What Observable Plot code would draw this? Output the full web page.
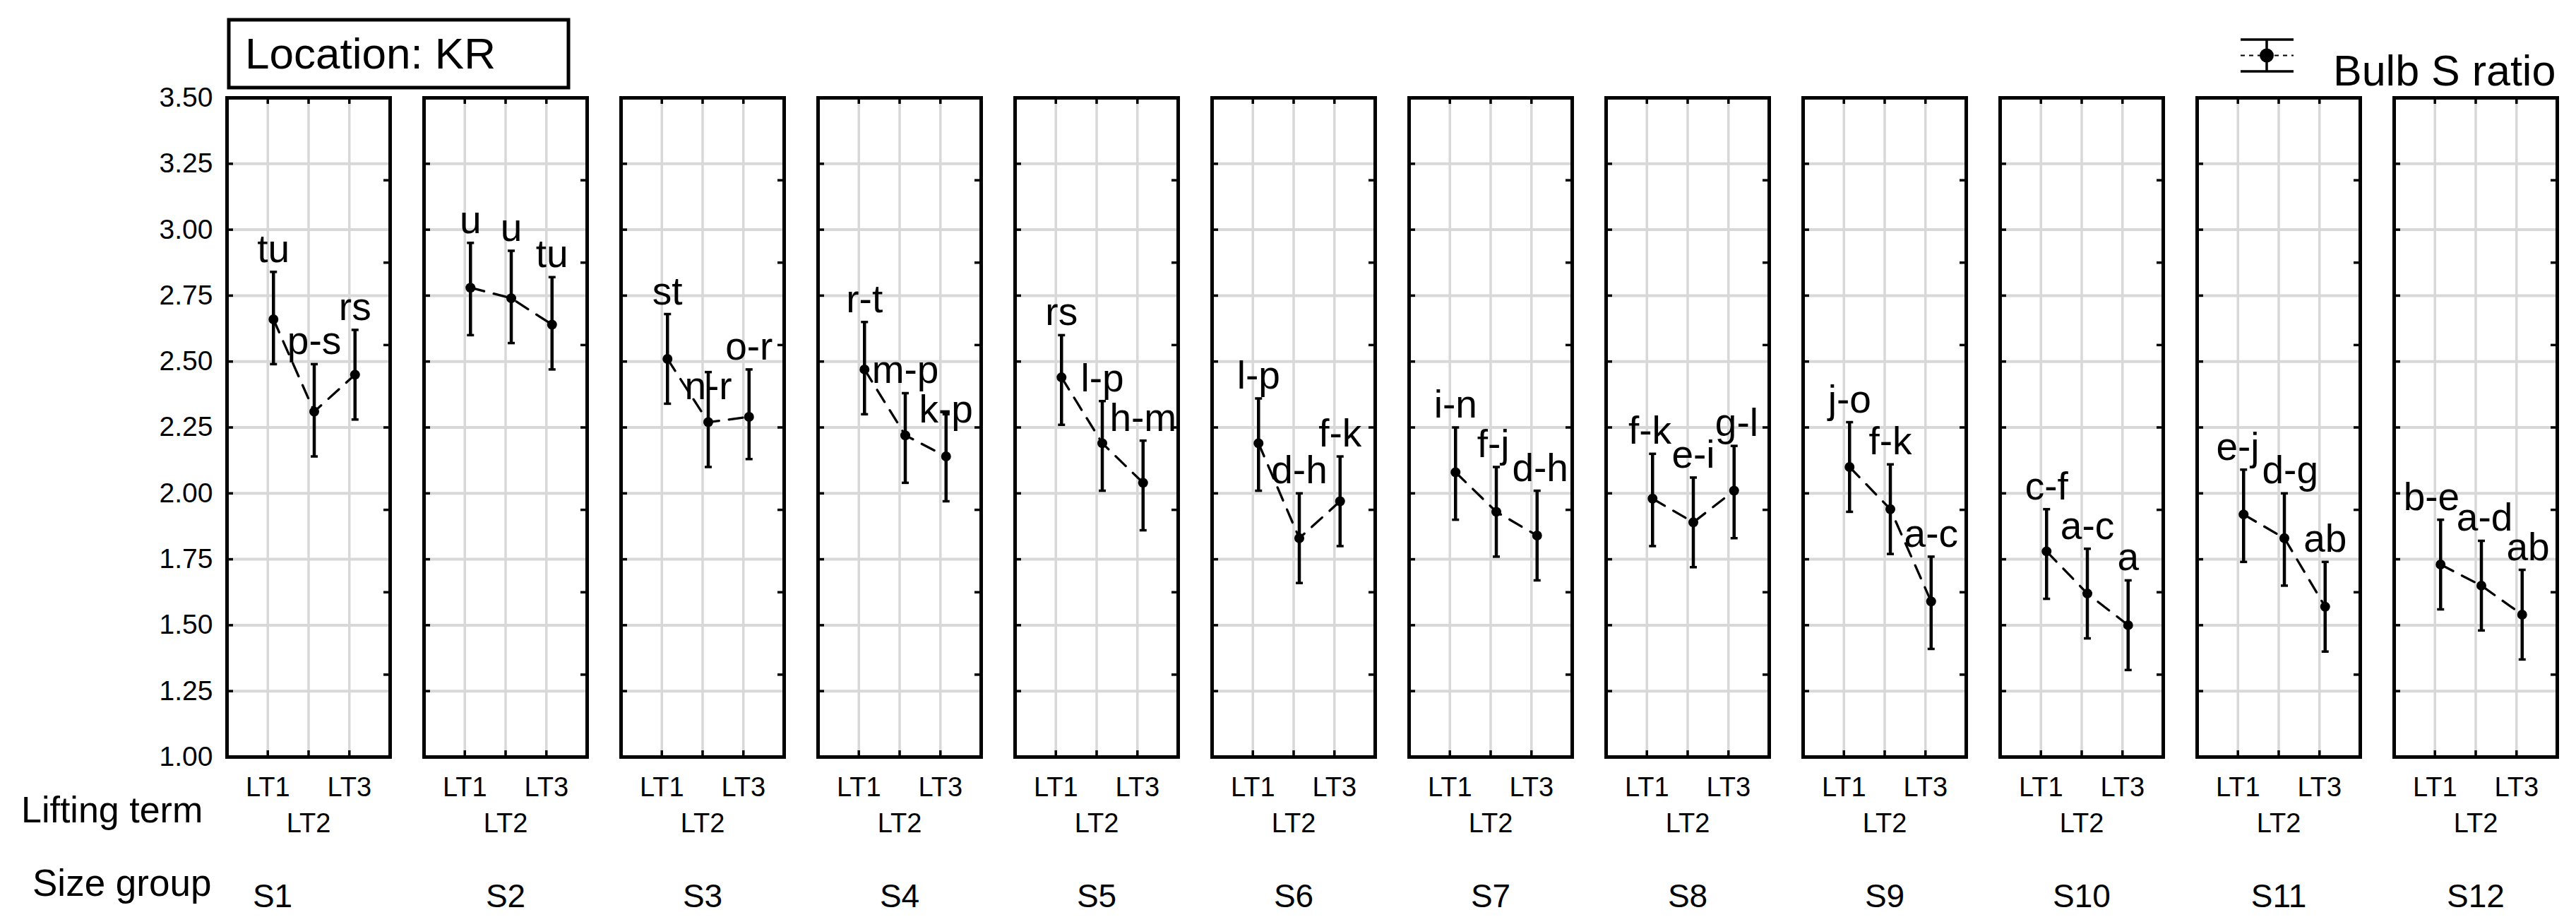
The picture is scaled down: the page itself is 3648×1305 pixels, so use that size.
<!DOCTYPE html>
<html>
<head>
<meta charset="utf-8">
<script src="https://cdn.jsdelivr.net/npm/d3@7"></script>
<script src="https://cdn.jsdelivr.net/npm/@observablehq/plot@0.6"></script>
<style>
  html, body { margin: 0; padding: 0; background: #ffffff; }
  #chart { width: 3648px; height: 1305px; }
  #chart svg { display: block; }
</style>
</head>
<body>
<div id="chart"></div>
<script>
// ---- Data ----
const groups = ["S1", "S2", "S3", "S4", "S5", "S6", "S7", "S8", "S9", "S10", "S11", "S12"];
const terms = ["LT1", "LT2", "LT3"];

// mean Bulb S ratio per size group (rows) and lifting term (columns)
const means = [
  [2.66, 2.31, 2.45],
  [2.78, 2.74, 2.64],
  [2.51, 2.27, 2.29],
  [2.47, 2.22, 2.14],
  [2.44, 2.19, 2.04],
  [2.19, 1.83, 1.97],
  [2.08, 1.93, 1.84],
  [1.98, 1.89, 2.01],
  [2.10, 1.94, 1.59],
  [1.78, 1.62, 1.50],
  [1.92, 1.83, 1.57],
  [1.73, 1.65, 1.54]
];
// lower whisker
const lower = [
  [2.49, 2.14, 2.28],
  [2.60, 2.57, 2.47],
  [2.34, 2.10, 2.13],
  [2.30, 2.04, 1.97],
  [2.26, 2.01, 1.86],
  [2.01, 1.66, 1.80],
  [1.90, 1.76, 1.67],
  [1.80, 1.72, 1.83],
  [1.93, 1.77, 1.41],
  [1.60, 1.45, 1.33],
  [1.74, 1.65, 1.40],
  [1.56, 1.48, 1.37]
];
// upper whisker
const upper = [
  [2.84, 2.49, 2.62],
  [2.95, 2.92, 2.82],
  [2.68, 2.46, 2.47],
  [2.65, 2.38, 2.30],
  [2.60, 2.35, 2.20],
  [2.36, 2.00, 2.14],
  [2.25, 2.10, 2.01],
  [2.15, 2.06, 2.18],
  [2.27, 2.11, 1.76],
  [1.94, 1.79, 1.67],
  [2.09, 2.00, 1.74],
  [1.90, 1.82, 1.71]
];
// significance letters
const letters = [
  ["tu", "p-s", "rs"],
  ["u", "u", "tu"],
  ["st", "n-r", "o-r"],
  ["r-t", "m-p", "k-p"],
  ["rs", "l-p", "h-m"],
  ["l-p", "d-h", "f-k"],
  ["i-n", "f-j", "d-h"],
  ["f-k", "e-i", "g-l"],
  ["j-o", "f-k", "a-c"],
  ["c-f", "a-c", "a"],
  ["e-j", "d-g", "ab"],
  ["b-e", "a-d", "ab"]
];
const yTicks = [1.00, 1.25, 1.50, 1.75, 2.00, 2.25, 2.50, 2.75, 3.00, 3.25, 3.50];
const rightTicks = [1.3125, 1.625, 1.9375, 2.25, 2.5625, 2.875, 3.1875];

const titleText = "Location: KR";
const legendText = "Bulb S ratio";
const xTitle = "Lifting term";
const fxTitle = "Size group";

// ---- Layout constants ----
const W = 3648, H = 1305;
const mTop = 138, mBottom = 234, mLeft = 321, mRight = 27;
const innerH = H - mTop - mBottom;
const bandW = 231;
const tickLen = 9;
const shift = 8;
const black = "#000000";
const gridColor = "#d8d8d8";
const letterSize = 55;
const fontFamily = '"Liberation Sans", Arial, Helvetica, sans-serif';

// ---- Table built from the arrays (x position = index of the lifting term) ----
const termPos = terms.map((t, j) => j + 1);
const rows = groups.flatMap((g, i) => terms.map((t, j) => ({
  group: g, term: t, pos: termPos[j], mean: means[i][j], lo: lower[i][j], hi: upper[i][j], letter: letters[i][j]
})));

// letter placement rule: just above the upper whisker; when two neighbouring
// letters clearly collide, the one over the lower whisker is moved down, and
// letters that still touch are spread apart sideways.
const pxPerUnit = innerH / 2.5;
const pxPerPos = bandW / (terms.length + 1);
const lift = 14 / pxPerUnit;
const nearGap = 22 / pxPerUnit;
const closeGap = 37 / pxPerUnit;
const pushGap = 56 / pxPerUnit;
const lineGap = 45 / pxPerUnit;
const measure = document.createElement("canvas").getContext("2d");
measure.font = `${letterSize}px ${fontFamily}`;
for (const g of groups) {
  const rs = rows.filter(r => r.group === g);
  rs.forEach(r => { r.ly = r.hi + lift; r.lx = r.pos; });
  for (let i = 1; i < rs.length; i++) {
    const a = rs[i - 1], b = rs[i];
    const wa = measure.measureText(a.letter).width;
    const wb = measure.measureText(b.letter).width;
    const hOverlap = (wa + wb) / 2 - pxPerPos;
    const d = Math.abs(a.ly - b.ly);
    if (hOverlap <= 0) continue;
    if (d < nearGap || (hOverlap > 25 && d < closeGap)) {
      if (b.hi <= a.hi) b.ly = a.ly - pushGap; else a.ly = b.ly - pushGap;
    } else if (d < lineGap) {
      const s = (hOverlap + 4) / 2 / pxPerPos;
      a.lx -= s;
      b.lx += s;
    }
  }
}

const capSymbol = {
  draw(ctx, size) {
    const r = Math.sqrt(size / Math.PI);
    ctx.moveTo(-r, 0);
    ctx.lineTo(r, 0);
  }
};

const chart = Plot.plot({
  width: W,
  height: H,
  marginTop: mTop,
  marginBottom: mBottom,
  marginLeft: mLeft,
  marginRight: mRight,
  style: { fontFamily, background: "#ffffff", color: black, overflow: "visible" },
  fx: { domain: groups, paddingInner: 48 / 279, paddingOuter: 0, round: false, axis: null, label: null },
  x: { domain: [0, terms.length + 1], axis: null, label: null },
  y: { domain: [1, 3.5], axis: null, label: null },
  marks: [
    Plot.gridY(yTicks, { stroke: gridColor, strokeOpacity: 1, strokeWidth: 4 }),
    Plot.gridX(termPos, { stroke: gridColor, strokeOpacity: 1, strokeWidth: 3.5 }),
    // inward ticks on the four sides of every panel
    Plot.ruleY(yTicks, { insetRight: bandW - tickLen, stroke: black, strokeWidth: 3.5 }),
    Plot.ruleY(rightTicks, { insetLeft: bandW - tickLen, stroke: black, strokeWidth: 3.5 }),
    Plot.ruleX(termPos, { insetBottom: innerH - tickLen, stroke: black, strokeWidth: 3.5 }),
    Plot.ruleX(termPos, { insetTop: innerH - tickLen, stroke: black, strokeWidth: 3.5 }),
    Plot.frame({ stroke: black, strokeWidth: 5 }),
    // axes
    Plot.axisY(yTicks, { anchor: "left", tickSize: 0, tickPadding: 20, tickFormat: d3.format(".2f"), fontSize: 39, label: null }),
    Plot.axisX([termPos[0], termPos[2]], { anchor: "bottom", tickSize: 0, tickPadding: 29, tickFormat: d => terms[d - 1], fontSize: 38, label: null }),
    Plot.axisX([termPos[1]], { anchor: "bottom", tickSize: 0, tickPadding: 80, tickFormat: d => terms[d - 1], fontSize: 38, label: null }),
    Plot.text(groups.slice(0, 1), { fx: d => d, text: d => d, frameAnchor: "bottom", lineAnchor: "top", dy: 180, dx: -51, fontSize: 46, fill: black }),
    Plot.text(groups.slice(1), { fx: d => d, text: d => d, frameAnchor: "bottom", lineAnchor: "top", dy: 180, fontSize: 46, fill: black }),
    // data
    Plot.line(rows, { fx: "group", x: "pos", y: "mean", stroke: black, strokeWidth: 3.3, strokeDasharray: "20 14", dx: shift }),
    Plot.ruleX(rows, { fx: "group", x: "pos", y1: "lo", y2: "hi", stroke: black, strokeWidth: 4.5, dx: shift }),
    Plot.dot(rows, { fx: "group", x: "pos", y: "hi", symbol: capSymbol, r: 5, fill: "none", stroke: black, strokeWidth: 3.5, dx: shift }),
    Plot.dot(rows, { fx: "group", x: "pos", y: "lo", symbol: capSymbol, r: 5, fill: "none", stroke: black, strokeWidth: 3.5, dx: shift }),
    Plot.dot(rows, { fx: "group", x: "pos", y: "mean", r: 7, fill: black, stroke: "none", dx: shift }),
    Plot.text(rows, { fx: "group", x: "lx", y: "ly", text: "letter", dx: shift, lineAnchor: "bottom", fontSize: letterSize, fill: black })
  ]
});

// ---- Annotations outside the panels: title box, legend, row titles ----
const svg = d3.select(chart);
const ann = svg.append("g").attr("fill", black).attr("text-anchor", "start");
ann.append("rect").attr("x", 324).attr("y", 28).attr("width", 481).attr("height", 96)
  .attr("fill", "none").attr("stroke", black).attr("stroke-width", 5);
ann.append("text").attr("x", 347).attr("y", 97).attr("font-size", 62).attr("text-anchor", "start").text(titleText);

const lg = ann.append("g");
lg.append("line").attr("x1", 3173).attr("x2", 3248).attr("y1", 56).attr("y2", 56).attr("stroke", black).attr("stroke-width", 3.5);
lg.append("line").attr("x1", 3173).attr("x2", 3248).attr("y1", 101).attr("y2", 101).attr("stroke", black).attr("stroke-width", 3.5);
lg.append("line").attr("x1", 3210).attr("x2", 3210).attr("y1", 56).attr("y2", 101).attr("stroke", black).attr("stroke-width", 3.5);
lg.append("line").attr("x1", 3173).attr("x2", 3248).attr("y1", 78.5).attr("y2", 78.5).attr("stroke", black).attr("stroke-width", 2).attr("stroke-dasharray", "6 6");
lg.append("circle").attr("cx", 3210).attr("cy", 78.5).attr("r", 10).attr("fill", black);
lg.append("text").attr("x", 3304).attr("y", 121).attr("font-size", 61).attr("text-anchor", "start").text(legendText);

ann.append("text").attr("x", 30).attr("y", 1164).attr("font-size", 52).attr("text-anchor", "start").text(xTitle);
ann.append("text").attr("x", 46).attr("y", 1268).attr("font-size", 53).attr("text-anchor", "start").text(fxTitle);

document.getElementById("chart").appendChild(chart);
</script>
</body>
</html>
